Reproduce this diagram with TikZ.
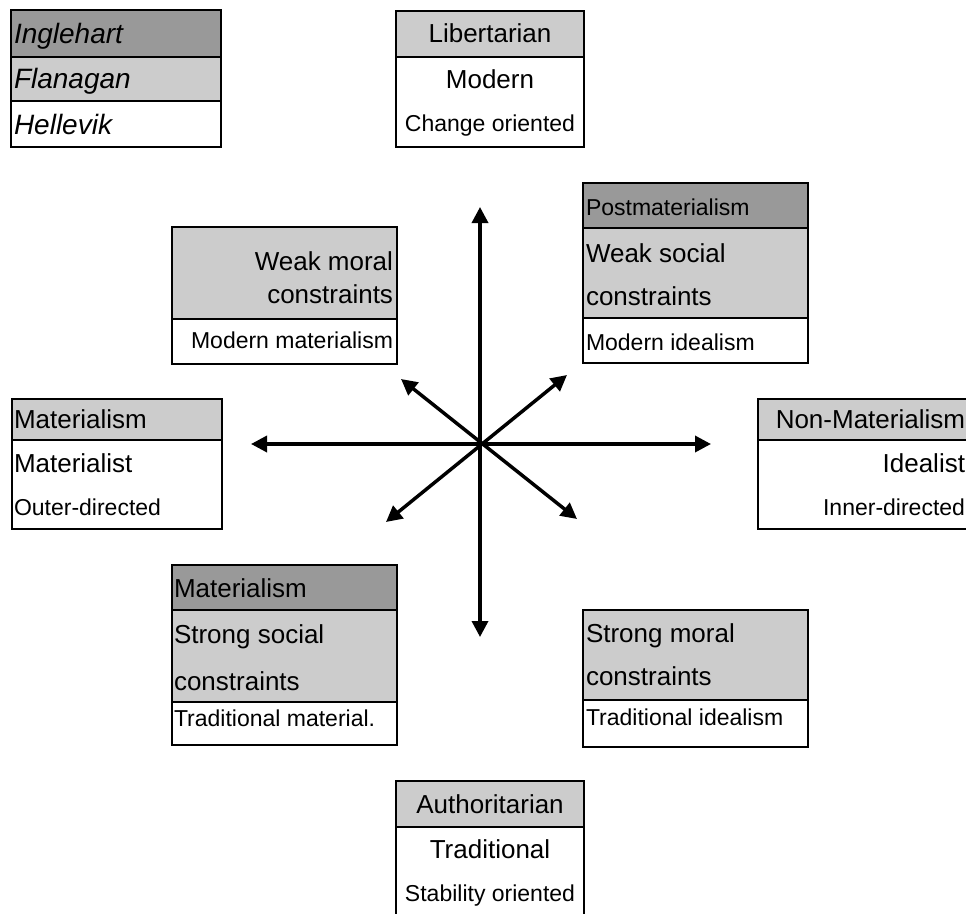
\documentclass[tikz,border=0pt]{standalone}
\usepackage{fontspec}
\setmainfont{Liberation Sans}
\usetikzlibrary{arrows.meta}
\definecolor{darkcell}{HTML}{999999}
\definecolor{lightcell}{HTML}{CCCCCC}
\newcommand\szlegend{\fontsize{21pt}{22pt}\selectfont\itshape}
\newcommand\szbig{\fontsize{19.5pt}{20pt}\selectfont}
\newcommand\szsmall{\fontsize{17.25pt}{18pt}\selectfont}
\tikzset{
  boxline/.style={draw=black, line width=2.1pt},
  txt/.style={inner sep=0pt, outer sep=0pt},
  bigtxt/.style={txt, font=\szbig},
  smalltxt/.style={txt, font=\szsmall},
  legtxt/.style={txt, font=\szlegend},
  axis/.style={line width=2.6pt, {Triangle[length=12pt,width=12pt]}-{Triangle[length=12pt,width=12pt]}}
}
\begin{document}
\begin{tikzpicture}[x=0.75pt, y=-0.75pt]
\useasboundingbox (0,0) rectangle (966,913);

% ---------- legend ----------
\fill[darkcell] (11,10) rectangle (221,57);
\fill[lightcell] (11,57) rectangle (221,101);
\draw[boxline] (11,10) rectangle (221,147);
\draw[boxline] (11,57) -- (221,57);
\draw[boxline] (11,101) -- (221,101);
\node[legtxt, anchor=base west] (leg1) at (14,44) {Inglehart};
\node[legtxt, anchor=base west] (leg2) at (14,89) {Flanagan};
\node[legtxt, anchor=base west] (leg3) at (14,135) {Hellevik};

% ---------- Libertarian (top) ----------
\fill[lightcell] (396,11) rectangle (584,57);
\draw[boxline] (396,11) rectangle (584,147);
\draw[boxline] (396,57) -- (584,57);
\node[bigtxt, anchor=base] (lib1) at (490,43) {Libertarian};
\node[bigtxt, anchor=base] (lib2) at (490,89) {Modern};
\node[smalltxt, anchor=base] (lib3) at (490,132) {Change oriented};

% ---------- Weak moral constraints (upper left) ----------
\fill[lightcell] (172,227) rectangle (397,319);
\draw[boxline] (172,227) rectangle (397,364);
\draw[boxline] (172,319) -- (397,319);
\node[bigtxt, anchor=base east] (wm1) at (393,270) {Weak moral};
\node[bigtxt, anchor=base east] (wm2) at (393,303) {constraints};
\node[smalltxt, anchor=base east] (wm3) at (393,348) {Modern materialism};

% ---------- Postmaterialism (upper right) ----------
\fill[darkcell] (583,183) rectangle (808,228);
\fill[lightcell] (583,228) rectangle (808,318);
\draw[boxline] (583,183) rectangle (808,363);
\draw[boxline] (583,228) -- (808,228);
\draw[boxline] (583,318) -- (808,318);
\node[smalltxt, anchor=base west] (pm1) at (586,215) {Postmaterialism};
\node[bigtxt, anchor=base west] (pm2) at (586,262) {Weak social};
\node[bigtxt, anchor=base west] (pm3) at (586,305) {constraints};
\node[smalltxt, anchor=base west] (pm4) at (586,350) {Modern idealism};

% ---------- Materialism (left) ----------
\fill[lightcell] (12,399) rectangle (222,440);
\draw[boxline] (12,399) rectangle (222,529);
\draw[boxline] (12,440) -- (222,440);
\node[bigtxt, anchor=base west] (ml1) at (14,428) {Materialism};
\node[bigtxt, anchor=base west] (ml2) at (14,472) {Materialist};
\node[smalltxt, anchor=base west] (ml3) at (14,515) {Outer-directed};

% ---------- Non-Materialism (right) ----------
\fill[lightcell] (758,399) rectangle (972,440);
\draw[boxline] (758,399) rectangle (972,529);
\draw[boxline] (758,440) -- (972,440);
\node[bigtxt, anchor=base east] (nm1) at (965,428) {Non-Materialism};
\node[bigtxt, anchor=base east] (nm2) at (965,472) {Idealist};
\node[smalltxt, anchor=base east] (nm3) at (965,515) {Inner-directed};

% ---------- Materialism / Strong social constraints (lower left) ----------
\fill[darkcell] (172,565) rectangle (397,610);
\fill[lightcell] (172,610) rectangle (397,702);
\draw[boxline] (172,565) rectangle (397,745);
\draw[boxline] (172,610) -- (397,610);
\draw[boxline] (172,702) -- (397,702);
\node[bigtxt, anchor=base west] (ss1) at (174,597) {Materialism};
\node[bigtxt, anchor=base west] (ss2) at (174,643) {Strong social};
\node[bigtxt, anchor=base west] (ss3) at (174,690) {constraints};
\node[smalltxt, anchor=base west] (ss4) at (174,726) {Traditional material.};

% ---------- Strong moral constraints (lower right) ----------
\fill[lightcell] (583,610) rectangle (808,700);
\draw[boxline] (583,610) rectangle (808,747);
\draw[boxline] (583,700) -- (808,700);
\node[bigtxt, anchor=base west] (sm1) at (586,642) {Strong moral};
\node[bigtxt, anchor=base west] (sm2) at (586,685) {constraints};
\node[smalltxt, anchor=base west] (sm3) at (586,725) {Traditional idealism};

% ---------- Authoritarian (bottom) ----------
\fill[lightcell] (396,781) rectangle (584,827);
\draw[boxline] (396,781) rectangle (584,925);
\draw[boxline] (396,827) -- (584,827);
\node[bigtxt, anchor=base] (au1) at (490,813) {Authoritarian};
\node[bigtxt, anchor=base] (au2) at (490,858) {Traditional};
\node[smalltxt, anchor=base] (au3) at (490,901) {Stability oriented};

% ---------- axes ----------
\coordinate (tipN) at (480,207);
\coordinate (tipS) at (480,637);
\coordinate (tipW) at (251,444);
\coordinate (tipE) at (711,444);
\coordinate (tipNW) at (401,379);
\coordinate (tipSE) at (577,519);
\coordinate (tipNE) at (567,375);
\coordinate (tipSW) at (386,522);
\draw[axis] (tipS) -- (tipN);
\draw[axis] (tipW) -- (tipE);
\draw[axis] (tipNW) -- (tipSE);
\draw[axis] (tipSW) -- (tipNE);
\end{tikzpicture}
\end{document}
